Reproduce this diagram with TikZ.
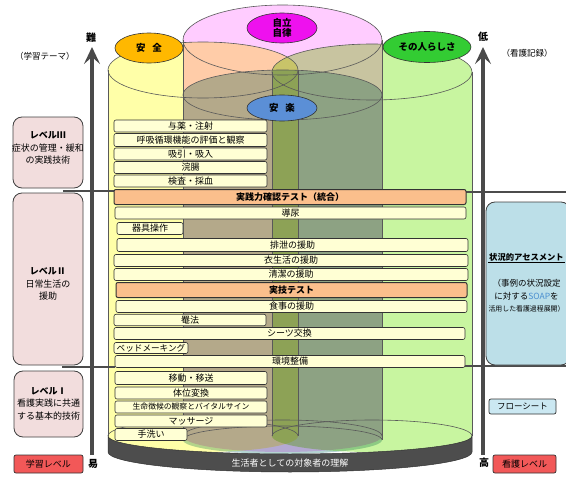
\documentclass[tikz,border=0pt]{standalone}
\usepackage{fontspec}
\newfontfamily\jp{Noto Sans CJK JP}
\usetikzlibrary{arrows.meta,shapes.geometric}
\definecolor{cyY}{HTML}{FFFFA8}
\definecolor{cyP}{HTML}{FFCCFF}
\definecolor{cyG}{HTML}{C8F5A0}
\definecolor{cyC}{HTML}{B4D4D2}
\definecolor{cream}{HTML}{FFFFD4}
\definecolor{testor}{HTML}{FBBF8C}
\definecolor{lvlpk}{HTML}{F2DDDD}
\definecolor{redlv}{HTML}{F25858}
\definecolor{ltblue}{HTML}{BCDFE8}
\definecolor{flowbl}{HTML}{CBE8F2}
\definecolor{bandgr}{HTML}{4D4D4D}
\definecolor{arrgr}{HTML}{4A4A4A}
\definecolor{lbY}{HTML}{FFB800}
\definecolor{lbP}{HTML}{EE11EE}
\definecolor{lbG}{HTML}{33CC33}
\definecolor{lbB}{HTML}{5B8FD6}
\definecolor{soapbl}{HTML}{4A8FD0}
% #1 left, #2 right, #3 top centre y, #4 top y radius, #5 bottom centre y, #6 bottom y radius, #7 colour
\newcommand\mycyl[7]{%
  \path[fill=#7] (#1,#3) -- (#1,#5)
    arc[start angle=180,end angle=0,x radius={(#2-#1)/2},y radius=#6]
    -- (#2,#3)
    arc[start angle=0,end angle=-180,x radius={(#2-#1)/2},y radius=#4] -- cycle;
}
\newcommand\mycylline[6]{%
  \draw[cylline] ({(#1+#2)/2},#3) ellipse[x radius={(#2-#1)/2},y radius=#4];
  \draw[cylline] (#1,#3) -- (#1,#5);
  \draw[cylline] (#2,#3) -- (#2,#5);
  \draw[cylline] (#1,#5) arc[start angle=180,end angle=360,x radius={(#2-#1)/2},y radius=#6];
}
\begin{document}
\begin{tikzpicture}[x=1pt,y=-1pt,font=\jp\fontsize{9}{11}\selectfont,
  cylline/.style={draw=black!65,line width=.6pt},
  barbox/.style={draw=black!80,fill=cream,rounded corners=2pt,line width=.6pt,inner sep=0pt,font=\jp\fontsize{9}{9}\selectfont},
  testbox/.style={barbox,fill=testor,line width=1pt,font=\jp\bfseries\fontsize{9}{9}\selectfont},
  lvlbox/.style={draw=black!75,fill=lvlpk,rounded corners=9pt,line width=.8pt},
  redbox/.style={draw=black!80,fill=redlv,rounded corners=2pt,line width=.7pt,inner sep=0pt},
  labell/.style={ellipse,draw=black!80,line width=.6pt,inner sep=0pt,font=\jp\bfseries\fontsize{9.5}{10.5}\selectfont},
  sepline/.style={draw=black!70,line width=1.3pt},
  bigarrow/.style={draw=arrgr,line width=3.5pt,-{Stealth[length=17pt,width=16pt,inset=7pt]}},
  axislbl/.style={font=\jp\bfseries\fontsize{10}{11}\selectfont},
  boxtxt/.style={align=center,inner sep=0pt,font=\jp\fontsize{9}{12.5}\selectfont}
]
\useasboundingbox (0,0) rectangle (566,479);

% cylinders
\begin{scope}[blend group=multiply]
  \mycyl{108}{298}{70}{28}{436}{16}{cyY}
  \mycyl{183}{382}{40}{35}{436}{16}{cyP}
  \mycyl{272}{472}{72}{28}{436}{16}{cyG}
  \mycyl{183}{382}{95}{25}{440}{14}{cyC}
\end{scope}
\mycylline{108}{298}{70}{28}{436}{16}
\mycylline{183}{382}{40}{35}{436}{16}
\mycylline{272}{472}{72}{28}{436}{16}
\mycylline{183}{382}{95}{25}{440}{14}

% bottom band
\path[fill=bandgr,draw=black!80,line width=.5pt] (108,436)
  arc[start angle=180,end angle=0,x radius=182,y radius=18] -- (472,452)
  arc[start angle=0,end angle=180,x radius=182,y radius=20] -- cycle;
\node[text=white,font=\jp\fontsize{9}{10}\selectfont] (band) at (290,463) {生活者としての対象者の理解};

% separator lines
\coordinate (s1a) at (63,191);
\coordinate (s1b) at (114,191);
\coordinate (s1c) at (466,192);
\coordinate (s1d) at (566,192);
\coordinate (s2a) at (62,367);
\coordinate (s2b) at (115,367);
\coordinate (s2c) at (465,366);
\coordinate (s2d) at (566,366);
\draw[sepline] (s1a) -- (s1b);
\draw[sepline] (s1c) -- (s1d);
\draw[sepline] (s2a) -- (s2b);
\draw[sepline] (s2c) -- (s2d);

% axes arrows
\coordinate (la0) at (92,455);
\coordinate (la1) at (92,47);
\coordinate (ra0) at (483,455);
\coordinate (ra1) at (483,47);
\draw[bigarrow] (la0) -- (la1);
\draw[bigarrow] (ra0) -- (ra1);
\node[axislbl] (nan) at (91,38) {難};
\node[axislbl] (eki) at (93,464) {易};
\node[axislbl] (tei) at (483,37) {低};
\node[axislbl] (kou) at (484,463) {高};
\node[font=\jp\fontsize{8.5}{9}\selectfont] (theme) at (45,56) {（学習テーマ）};
\node[font=\jp\fontsize{8.5}{9}\selectfont] (kiroku) at (527,53) {（看護記録）};

% left level boxes
\node[lvlbox,minimum width=70pt,minimum height=71pt] (lv3) at (48,152.5) {};
\node[boxtxt] (lv3t) at (48,148) {\bfseries レベルⅢ\\症状の管理・緩和\\の実践技術};
\node[lvlbox,minimum width=70pt,minimum height=172pt] (lv2) at (48,279) {};
\node[boxtxt] (lv2t) at (48,284) {\bfseries レベルⅡ\\日常生活の\\援助};
\node[lvlbox,minimum width=69pt,minimum height=66pt] (lv1) at (48.5,404) {};
\node[boxtxt] (lv1t) at (48.5,403.5) {\bfseries レベルⅠ\\看護実践に共通\\する基本的技術};
\node[redbox,minimum width=69pt,minimum height=18pt] (gakushu) at (48.5,464) {学習レベル};

% right boxes
\begin{scope}
  \clip (0,0) rectangle (566,479);
  \node[lvlbox,fill=ltblue,minimum width=84pt,minimum height=163pt] (assess) at (528,283.5) {};
\end{scope}
\node[inner sep=1pt,font=\jp\bfseries\fontsize{8.3}{9}\selectfont] (asst) at (526.5,257) {状況的アセスメント};
\draw[line width=.6pt] (asst.south west) -- (asst.south east);
\node[boxtxt,font=\jp\fontsize{8.5}{13}\selectfont] (assb) at (526.5,290) {（事例の状況設定\\に対する\textcolor{soapbl}{SOAP}を};
\node[boxtxt,font=\jp\fontsize{6.9}{8}\selectfont] (assc) at (526.5,309) {活用した看護過程展開）};
\node[redbox,fill=flowbl,minimum width=67pt,minimum height=15pt,font=\jp\fontsize{8.5}{9}\selectfont] (flow) at (522.5,406.5) {フローシート};
\node[redbox,minimum width=63pt,minimum height=18pt] (kango) at (524.5,464) {看護レベル};

% bars
\node[barbox,minimum width=153pt,minimum height=12pt] (b1) at (190.5,126) {与薬・注射};
\node[barbox,minimum width=153pt,minimum height=13pt] (b2) at (190.5,140) {呼吸循環機能の評価と観察};
\node[barbox,minimum width=153pt,minimum height=12pt] (b3) at (190.5,154) {吸引・吸入};
\node[barbox,minimum width=153pt,minimum height=12pt] (b4) at (190.5,167.5) {浣腸};
\node[barbox,minimum width=153pt,minimum height=12pt] (b5) at (190.5,181) {検査・採血};
\node[testbox,minimum width=352pt,minimum height=15pt] (t1) at (290,197) {実践力確認テスト（統合）};
\node[barbox,minimum width=351pt,minimum height=12pt] (b6) at (290.5,213) {導尿};
\node[barbox,minimum width=66pt,minimum height=12pt] (b7) at (150,228.5) {器具操作};
\node[barbox,minimum width=351pt,minimum height=13pt] (b8) at (292.5,245) {排泄の援助};
\node[barbox,minimum width=354pt,minimum height=12pt] (b9) at (291,260.5) {衣生活の援助};
\node[barbox,minimum width=354pt,minimum height=12pt] (b10) at (291,274.5) {清潔の援助};
\node[testbox,minimum width=351pt,minimum height=15pt] (t2) at (291.5,290) {実技テスト};
\node[barbox,minimum width=351pt,minimum height=12pt] (b11) at (291.5,306.5) {食事の援助};
\node[barbox,minimum width=152pt,minimum height=11.5pt] (b12) at (190,320) {罨法};
\node[barbox,minimum width=351pt,minimum height=12pt] (b13) at (289.5,333.5) {シーツ交換};
\node[barbox,minimum width=74pt,minimum height=11pt,font=\jp\fontsize{8.6}{9}\selectfont] (b14) at (151,348) {ベッドメーキング};
\node[barbox,minimum width=350pt,minimum height=12pt] (b15) at (290,361.5) {環境整備};
\node[barbox,minimum width=152pt,minimum height=13pt] (b16) at (191,378) {移動・移送};
\node[barbox,minimum width=152pt,minimum height=12pt] (b17) at (191,393) {体位変換};
\node[barbox,minimum width=152pt,minimum height=12pt,font=\jp\fontsize{7.8}{9}\selectfont] (b18) at (191,407) {生命徴候の観察とバイタルサイン};
\node[barbox,minimum width=152pt,minimum height=12pt] (b19) at (191,421) {マッサージ};
\node[barbox,minimum width=72pt,minimum height=12pt] (b20) at (151,434.5) {手洗い};

% label ellipses
\node[labell,fill=lbY,minimum width=68pt,minimum height=30pt] (anzen) at (149,48) {安\hspace{0.7em}全};
\node[labell,fill=lbP,minimum width=70pt,minimum height=30pt,align=center] (jiritsu) at (282,28) {自立\\自律};
\node[labell,fill=lbG,minimum width=88pt,minimum height=31pt] (sonohito) at (427,47) {その人らしさ};
\node[labell,fill=lbB,minimum width=70pt,minimum height=26pt] (anraku) at (282,108) {安\hspace{0.7em}楽};
\end{tikzpicture}
\end{document}
